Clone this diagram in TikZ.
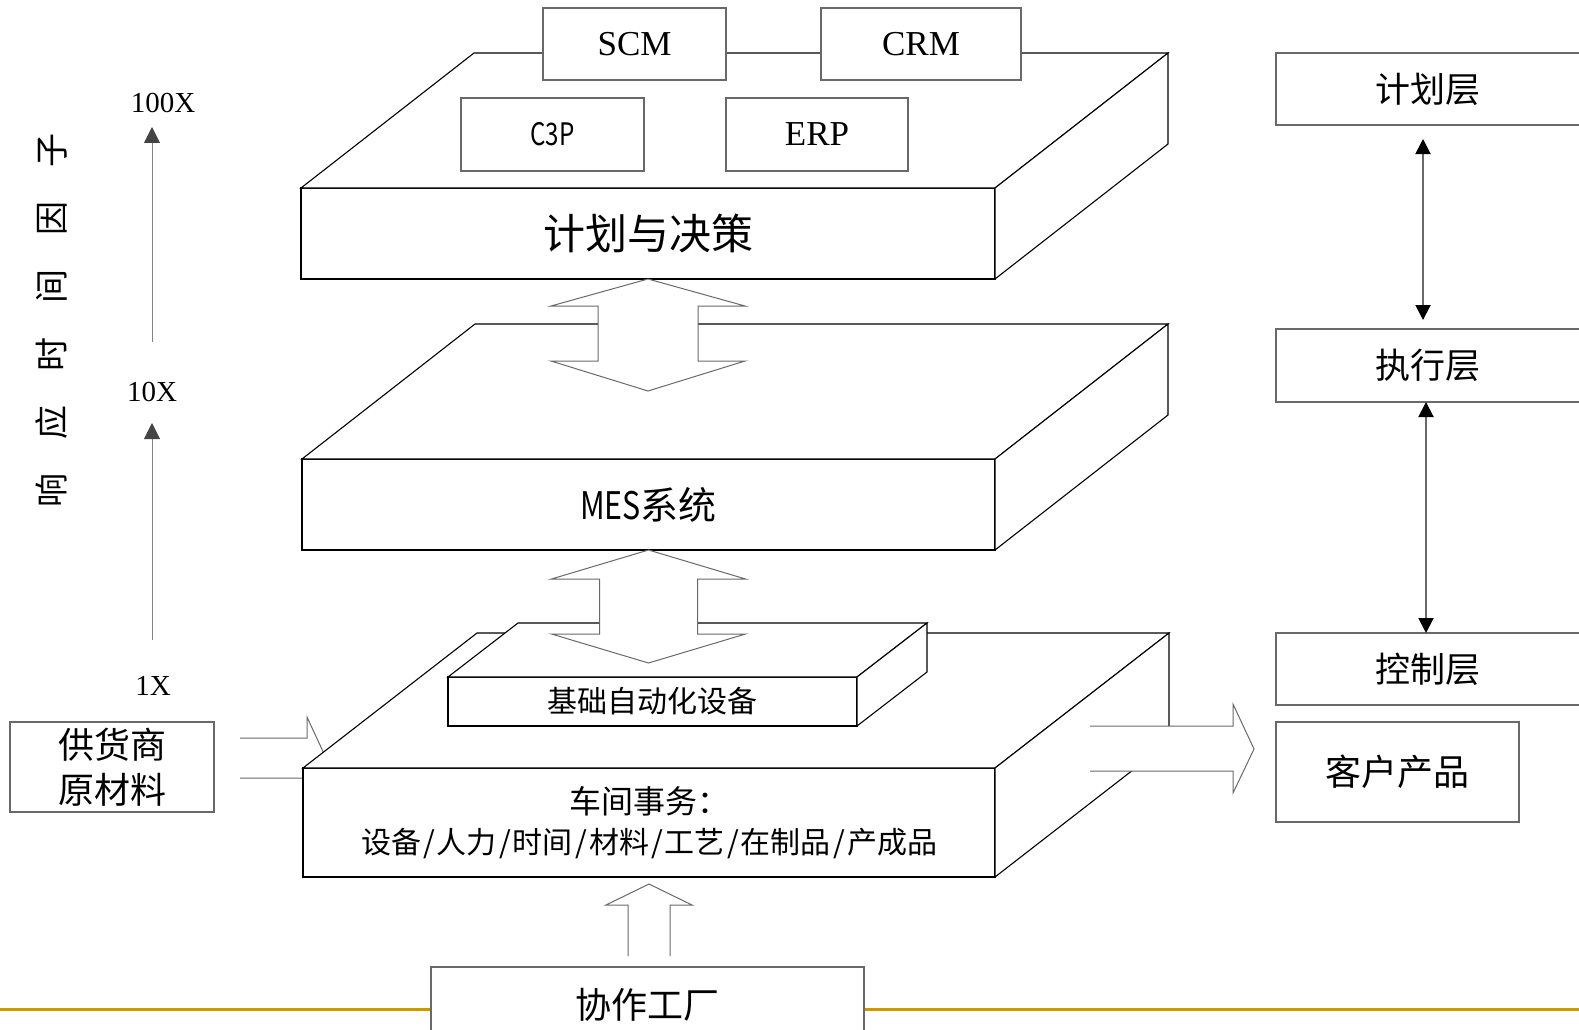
\documentclass[tikz,border=0pt]{standalone}
\usepackage{fontspec}
\usepackage{graphicx}
\usetikzlibrary{calc,arrows.meta}
\newfontfamily\cjk{Noto Sans CJK SC}
\newfontfamily\tms{Liberation Serif}
\definecolor{gold}{RGB}{204,153,0}
\definecolor{edgegray}{RGB}{105,105,105}
\definecolor{axgray}{RGB}{130,130,130}
\definecolor{headgray}{RGB}{68,68,68}
\newcommand\myfs[1]{\fontsize{#1}{#1}\selectfont}
\newcommand\slh{\makebox[16pt]{/}}
\newcommand\slabfaces[3]{%
  \draw[slab] (#1.north west) -- ++(#2,-#3) -- ($(#1.north east)+(#2,-#3)$) -- (#1.north east) -- cycle;
  \draw[slab] (#1.north east) -- ++(#2,-#3) -- ($(#1.south east)+(#2,-#3)$) -- (#1.south east) -- cycle;
}
\begin{document}
\begin{tikzpicture}[x=1pt,y=-1pt,
  slab/.style={draw=black, line width=1.1pt, fill=white},
  face/.style={slab, rectangle, inner sep=0pt, outer sep=0pt, align=center},
  gbox/.style={draw=edgegray, line width=1.2pt, fill=white, rectangle, inner sep=0pt, outer sep=0pt, align=center},
  rbox/.style={gbox, anchor=north west, font=\cjk\myfs{35}},
  blk/.style={draw=edgegray, line width=1pt, fill=white},
  axisarr/.style={draw=axgray, line width=1pt, -{Triangle[length=16pt,width=16pt,color=headgray]}},
  lay/.style={draw=edgegray, line width=2pt, {Triangle[length=15pt,width=15pt,color=black]}-{Triangle[length=15pt,width=15pt,color=black]}},
  lbl/.style={inner sep=0pt, font=\tms\myfs{29}}
]
\useasboundingbox (0,0) rectangle (1579,1030);
\fill[white] (0,0) rectangle (1579,1030);

% golden base line
\draw[gold, line width=3pt] (0,1009) -- (1579,1009);

% ---- slab 1 : planning ----
\node[face, minimum width=694pt, minimum height=91pt, font=\cjk\myfs{42}] (plan) at (648,233.5) {计划与决策};
\slabfaces{plan}{173}{135}
\node[gbox, minimum width=183pt, minimum height=72pt, font=\tms\myfs{35}] (scm) at (634.5,44) {SCM};
\node[gbox, minimum width=200pt, minimum height=72pt, font=\tms\myfs{35}] (crm) at (921,44) {CRM};
\node[gbox, minimum width=183pt, minimum height=73pt, font=\cjk\myfs{31}] (c3p) at (552.5,134.5) {\scalebox{0.78}[1]{C3P}};
\node[gbox, minimum width=182pt, minimum height=73pt, font=\tms\myfs{35}] (erp) at (817,134.5) {ERP};

% ---- slab 2 : MES ----
\node[face, minimum width=693pt, minimum height=91pt, font=\cjk\myfs{38}] (mes) at (648.5,504.5) {\scalebox{0.8}[1]{MES}系统};
\slabfaces{mes}{173}{135}

% double block arrow 1
\coordinate (a1) at (plan.south);
\draw[blk] (a1) -- ++(97,27) -- ++(-47,0) -- ++(0,55) -- ++(47,0) -- ++(-97,30)
  -- ++(-97,-30) -- ++(47,0) -- ++(0,-55) -- ++(-47,0) -- cycle;

% supplier box and input arrow
\node[gbox, minimum width=204pt, minimum height=90pt, font=\cjk\fontsize{36}{45}\selectfont] (sup) at (112,767) {供货商\\原材料};
\coordinate (s1) at (240,738);
\draw[blk, fill=none] (s1) -- (307,738) -- (307,717) -- (326,758) -- (307,799) -- (307,778) -- (240,778);

% ---- slab 3 : shop floor ----
\node[face, minimum width=692pt, minimum height=109pt, font=\cjk\fontsize{32}{40}\selectfont] (shop) at (649,822.5)
  {车间事务：\\{\fontsize{30}{40}\selectfont 设备\slh 人力\slh 时间\slh 材料\slh 工艺\slh 在制品\slh 产成品}};
\slabfaces{shop}{174}{135}

% output arrow to customer product
\coordinate (o1) at (1090,726);
\fill[white] (o1) -- (1233,726) -- (1233,704) -- (1254,749) -- (1233,793) -- (1233,771) -- (1090,771) -- cycle;
\draw[blk, fill=none] (o1) -- (1233,726) -- (1233,704) -- (1254,749) -- (1233,793) -- (1233,771) -- (1090,771);

% ---- small slab : basic automation ----
\node[face, minimum width=409pt, minimum height=49pt, font=\cjk\myfs{30}] (base) at (652.5,701.5) {基础自动化设备};
\slabfaces{base}{70}{54}

% double block arrow 2
\coordinate (a2) at (mes.south);
\draw[blk] (a2) -- ++(97,29) -- ++(-48,0) -- ++(0,55) -- ++(48,0) -- ++(-97,29)
  -- ++(-97,-29) -- ++(48,0) -- ++(0,-55) -- ++(-48,0) -- cycle;

% cooperating factory
\node[gbox, anchor=north, minimum width=433pt, minimum height=80pt, font=\cjk\myfs{36}] (fac) at (647.5,967) {\raisebox{7pt}{协作工厂}};
\coordinate (a3) at ([yshift=-7pt]shop.south);
\draw[blk, fill=none] ($(a3)+(-21,72)$) -- ++(0,-51) -- ++(-22,0) -- (a3) -- ++(43,21) -- ++(-22,0) -- ++(0,51);

% ---- left axis ----
\node[lbl] (t100) at (163,103) {100X};
\node[lbl] (t10) at (152,392) {10X};
\node[lbl] (t1) at (153,686) {1X};
\draw[axisarr] ([yshift=50pt]t10.center) -- ([xshift=-11pt,yshift=-24pt]t100.center);
\draw[axisarr] ([xshift=-1pt,yshift=46pt]t1.center) -- ([yshift=-31pt]t10.center);
\node[rotate=90, inner sep=0pt, font=\cjk\myfs{34}] (resp) at (52,320) {响\kern34pt 应\kern34pt 时\kern34pt 间\kern34pt 因\kern34pt 子};

% ---- right layers ----
\node[rbox, minimum width=304pt, minimum height=72pt] (L1) at (1276,53) {计划层};
\node[rbox, minimum width=304pt, minimum height=73pt] (L2) at (1276,329) {执行层};
\node[rbox, minimum width=304pt, minimum height=72pt] (L3) at (1276,633) {控制层};
\node[rbox, minimum width=243pt, minimum height=100pt, font=\cjk\myfs{36}] (L4) at (1276,722) {客户产品};
\draw[lay] ([xshift=-5pt,yshift=-14pt]L1.south) -- ([xshift=-5pt,yshift=9pt]L2.north);
\draw[lay] ([xshift=-2pt]L2.south) -- ([xshift=-2pt]L3.north);
\end{tikzpicture}
\end{document}
